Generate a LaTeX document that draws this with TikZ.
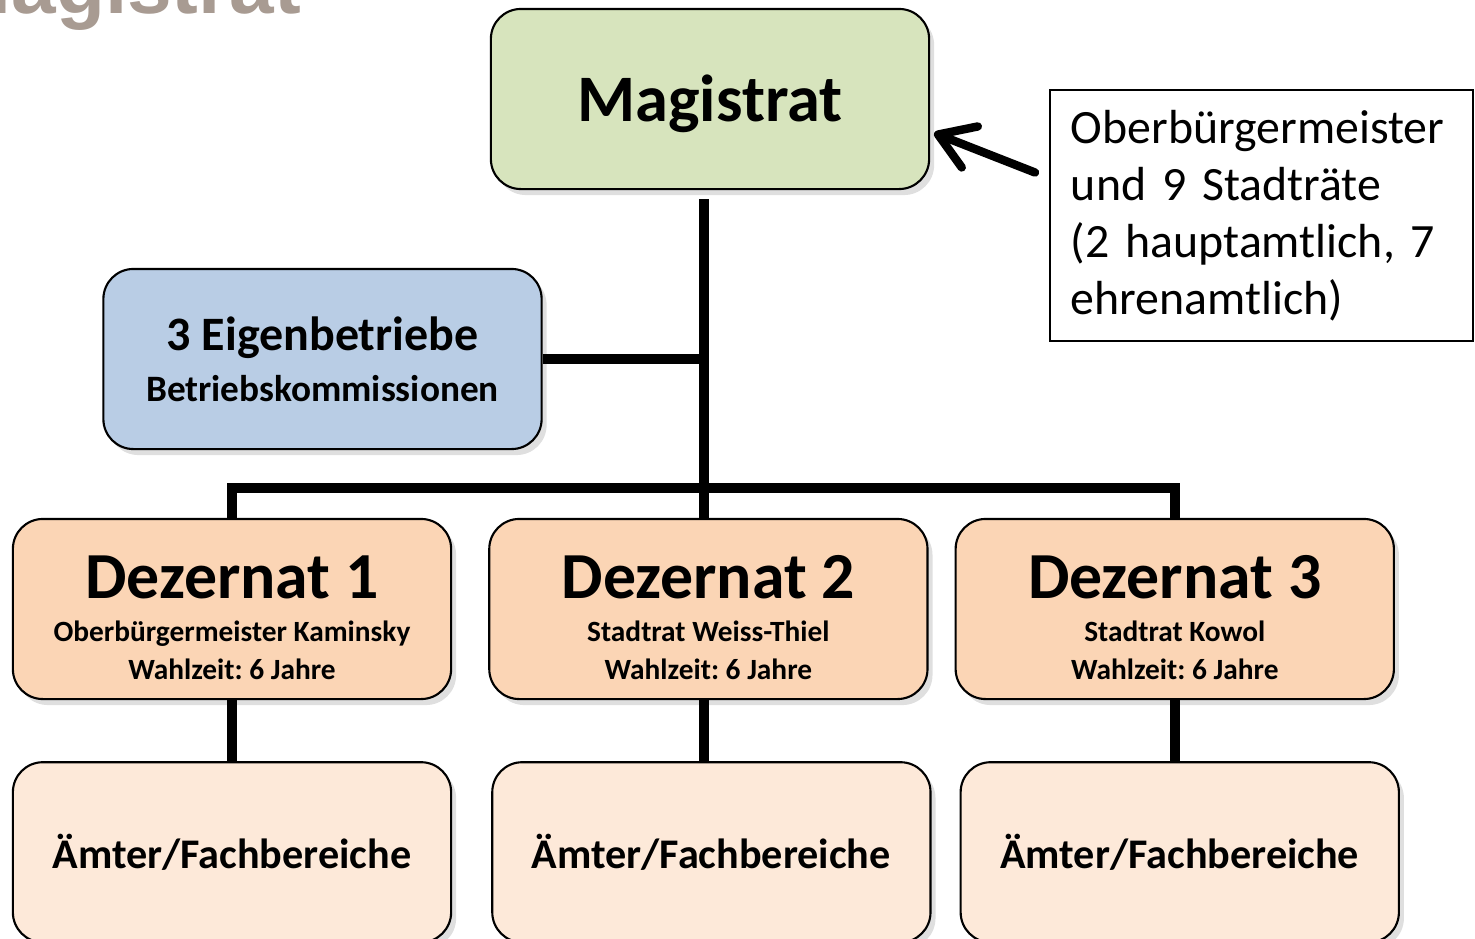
\documentclass[tikz,border=0pt]{standalone}
\usepackage{fontspec}
\setmainfont{Carlito}
\newfontfamily\headfont{Liberation Sans}
\usetikzlibrary{positioning,arrows.meta,shadows}
\definecolor{magfill}{RGB}{215,228,189}
\definecolor{eigfill}{RGB}{185,205,229}
\definecolor{dezfill}{RGB}{251,213,181}
\definecolor{amtfill}{RGB}{253,233,217}
\definecolor{headgray}{RGB}{168,155,146}
\frenchspacing
\newcommand{\dezhead}{\fontsize{18.7}{20}\selectfont\rule{0pt}{17pt}}
\newcommand{\dezsub}{\fontsize{8.35}{10}\selectfont}

\begin{document}
\begin{tikzpicture}[
  x=0.01cm, y=-0.01cm,
  every node/.style={font=\bfseries},
  orgbox/.style={rectangle, draw=black, line width=0.6pt, rounded corners=0.3cm,
                 minimum width=4.38cm, minimum height=1.8cm, align=center, inner sep=0pt,
                 drop shadow={opacity=0.25, shadow xshift=0.05cm, shadow yshift=-0.06cm}},
  magbox/.style={orgbox, fill=magfill},
  eigbox/.style={orgbox, fill=eigfill},
  dezbox/.style={orgbox, fill=dezfill},
  amtbox/.style={orgbox, fill=amtfill},
  notebox/.style={rectangle, draw=black, line width=0.5pt, minimum width=4.23cm,
                  minimum height=2.51cm, text width=3.81cm, align=left, inner sep=0pt,
                  font=\fontsize{13.6}{16.2}\selectfont},
  link/.style={line width=2.7pt},
  pointer/.style={-{Straight Barb[length=3.4mm, width=4.4mm, round]}, line width=2.4pt, line cap=round}
]
  \useasboundingbox (0,0) rectangle (1475,939);
  \clip (0,0) rectangle (1475,939);

  % title of the slide, cut off at the top
  \node[anchor=base west, text=headgray, font=\headfont\bfseries\fontsize{22.8}{26}\selectfont,
        inner sep=0pt] (title) at (-56,13) {Magistrat};

  \coordinate (top) at (704,199);
  \coordinate (bus) at (704,488);

  \node[magbox] (mag) at (710,99) {\fontsize{18.9}{22}\selectfont\raisebox{-6.5pt}[0pt][0pt]{Magistrat}};
  \node[notebox] (note) at (1261.5,215.5)
    {Oberbürgermeister und 9 Stadträte (2 hauptamtlich, 7 ehrenamtlich)};
  \node[eigbox] (eig) at (322.5,359)
    {\fontsize{13.65}{17}\selectfont 3 Eigenbetriebe\\[2.5pt]\fontsize{10.6}{13}\selectfont Betriebskommissionen};

  \node[dezbox] (dez1) at (232,609)
    {\dezhead Dezernat 1\\[0.3pt]\dezsub Oberbürgermeister Kaminsky\\[-1.4pt]\dezsub Wahlzeit: 6 Jahre};
  \node[dezbox, right=0.36cm of dez1] (dez2)
    {\dezhead Dezernat 2\\[0.3pt]\dezsub Stadtrat Weiss-Thiel\\[-1.4pt]\dezsub Wahlzeit: 6 Jahre};
  \node[dezbox, right=0.26cm of dez2] (dez3)
    {\dezhead Dezernat 3\\[0.3pt]\dezsub Stadtrat Kowol\\[-1.4pt]\dezsub Wahlzeit: 6 Jahre};

  \node[amtbox, below=0.61cm of dez1] (amt1) {\fontsize{12}{15}\selectfont Ämter/Fachbereiche};
  \node[amtbox, below=0.61cm of dez2, xshift=0.03cm] (amt2) {\fontsize{12}{15}\selectfont Ämter/Fachbereiche};
  \node[amtbox, below=0.61cm of dez3, xshift=0.05cm] (amt3) {\fontsize{12}{15}\selectfont Ämter/Fachbereiche};

  % connectors
  \draw[link] (top) -- (top |- dez2.north);
  \draw[link] (eig.east) -- (eig.east -| top);
  \draw[link] (dez1.north) |- (bus) -| (dez3.north);
  \draw[link] (dez1.south) -- (dez1.south |- amt1.north);
  \draw[link] (top |- dez2.south) -- (top |- amt2.north);
  \draw[link] (dez3.south) -- (dez3.south |- amt3.north);

  \draw[pointer] ([shift={(-14,-43)}]note.west) -- ([shift={(4,34)}]mag.east);
\end{tikzpicture}
\end{document}
